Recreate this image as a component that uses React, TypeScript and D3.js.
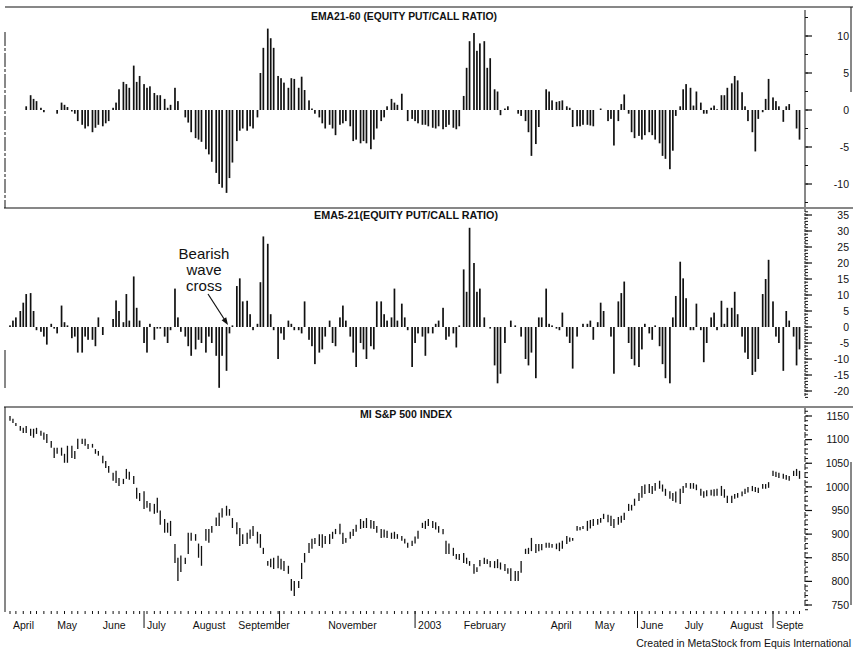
import React, { useEffect, useRef } from 'react';
import * as d3 from 'd3';

// sessions: Mon / Wed / Fri of each week from April 1, 2002
const startDate = new Date(2002, 3, 1);
const weekDays = [0, 2, 4];
const weekCount = 77;

// EMA21-60 of the equity put/call ratio
const ema2160 = [
  0, 0, 0, 0, 0, 0.5, 2, 1.5, 1.2, 0.3, -0.3, 0,
  0, 0, -0.5, 1.0, 0.7, 0.4, -0.2, -0.5, -1.5, -2.0, -2.5, -2.2, -3.0, -2.4, -2.0,
  -2.2, -1.8, -1.5, 0.3, 1.0, 2.8, 3.8, 3.5, 3.0, 6.0, 3.8, 4.6,
  3.5, 3.0, 3.2, 2.3, 2.0, 2.0, 1.5, 0.3, 0.7, 3.0, 1.2, 0, -1.0, -1.7, -3.0,
  -3.8, -4.0, -4.3, -5.3, -6.0, -7.0, -8.5, -10.0, -10.5, -11.2, -9.2, -7.1,
  -4.2, -2.8, -2.5, -2.8, -2.2, -2.5, -1.0, 5.0, 8.4, 11.0, 9.7, 8.4,
  4.6, 4.3, 3.7, 3.0, 4.3, 4.2, 3.0, 4.5, 2.7, 1.3, 0.2, -0.5, -1.0, -1.8, -2.5,
  -2.0, -2.5, -3.4, -2.0, -1.8, -1.5, -2.2, -4.2, -4.0, -4.5, -4.2, -4.5,
  -5.3, -4.0, -2.5, -1.5, -1.0, 0.5, 1.5, 1.0, 0.7, 2.2, 0, -1.5,
  -1.2, -1.5, -1.8, -2.0, -2.0, -2.2, -2.4, -2.5, -2.2, -2.6, -2.3, -2.0, -2.4, -2.6, -2.2,
  1.9, 5.7, 9.3, 10.4, 8.0, 9.0, 9.3, 5.7, 7.0, 2.8, 2.5, -0.7,
  0.2, 0.5, 0, 0, -0.5, -0.8, -1.5, -3.0, -6.2, -4.6, -2.3, 0,
  2.8, 2.5, 1.3, 1.1, 1.2, 1.3, 0.5, 0.3, -2.3, -2.2, -2.2, -2.0,
  -2.0, -2.1, -2.2, 0, 0.2, 0, -1.5, -1.2, -4.8, -1.5, 0.8, 2.1, -0.5, -3.0, -3.8,
  -3.5, -4.0, -3.4, -3.0, -3.4, -4.0, -4.5, -6.2, -6.6, -8.0, -5.5, -0.8,
  0.5, 2.8, 3.5, 3.0, 0.6, 2.5, 1.0, -0.5, -0.5, 0.3, 0.6, 0.1,
  2.0, 2.0, 3.0, 3.6, 4.6, 4.0, 2.4, 0.5, -1.5, -3.0, -5.6, -1.2,
  -0.3, 1.5, 4.2, 1.7, 1.2, 0.5, -1.6, 0.5, 0.8, 0, -2.5, -4.0,
];

// EMA5-21 of the equity put/call ratio
const ema521 = [
  0.5, 2, 3, 5, 7.6, 10.3, 10.6, 5, -1, -1.5, -3, -5.5,
  1, -0.5, -2, 6.7, 1.5, 0.5, -3.5, -3, -8, -8, -3, -4, -4, -6, 3,
  -2.5, 0, 0, 2.5, 8.3, 5, 1.5, 10.3, 2, 15.8, 6, 2,
  -5, -8, 1, -4, -0.5, -0.5, -3, -5, -1, 12, 3, -1.5, -3, -6, -9,
  -7, -4, -5, -8, -3, -5, -9, -19, -9, -13.7, -2, 0.5,
  12.8, 15.2, 8, 8.2, 4, -1, 1, 14, 28.3, 26, 4, -1,
  -10, -2, -4, 2, 1, -1, -1, -2, 8, -4, -6, -11.6, -8, -7, -3,
  2, -5, -6, 3, 6.7, 2, -3, -8, -12.5, -5, -7, -10,
  -6, -7, 8, 8, 4, 2, 3, 12, 2, 7.3, 3, -1,
  -12.5, -5, -2, -3, -9, -2, -2, 1, 2, 6, -4, -3, -2, -6.4, 0.5,
  18, 11, 31, 20, 11, 12, 3, 0, -0.5, -12, -17.6, -14.6,
  -5, 0, 2, 0.5, 0, -3, -10, -12, -8, -16, 3, 3,
  12, 1, 0.5, -0.5, -1, 4.5, -3, -5, -13, -3, 0, 1,
  1, 2, -4, 1.5, 7.6, 5, 0, -3, -14.6, 8, 10.6, 14.2, -5, -10, -12,
  -12.5, -7, 1, -2, -4, 0.5, -6, -11.6, -16, -17.6, 3, 9.7,
  20.4, 15.2, 9, -1, -1, 7.3, -1, -11, -5, 3, 4.5, -1,
  8.2, 1, 6, 6, 11, 4, -3, -8, -10, -15, -14, -10,
  10.3, 15, 21, 8, -3, -5, -13.7, 5, 2, -3, -12, -7,
];

// S&P 500 index, session high
const spxHigh = [
  1150, 1144, 1135, 1129, 1125, 1129, 1123, 1123, 1125, 1119, 1115, 1112,
  1097, 1083, 1083, 1083, 1070, 1087, 1087, 1076, 1102, 1102, 1102, 1091, 1091, 1080, 1076,
  1066, 1055, 1044, 1030, 1034, 1019, 1017, 1038, 1032, 1023, 998, 987,
  991, 970, 966, 964, 977, 950, 932, 924, 928, 879, 850, 855, 850, 903, 903,
  900, 880, 875, 911, 911, 917, 935, 945, 955, 960, 953, 934,
  925, 913, 900, 903, 910, 917, 905, 900, 871, 843, 848, 850,
  854, 848, 843, 833, 805, 801, 801, 839, 860, 881, 890, 892, 900, 900, 896,
  900, 905, 911, 922, 903, 892, 905, 911, 920, 932, 928, 934,
  930, 928, 917, 911, 910, 907, 903, 905, 900, 896, 890, 882,
  886, 895, 907, 924, 928, 932, 928, 925, 917, 911, 886, 880, 871, 858, 858,
  860, 850, 843, 837, 830, 845, 850, 847, 843, 843, 847, 840,
  837, 828, 828, 822, 822, 843, 869, 871, 892, 879, 879, 879,
  882, 882, 879, 880, 882, 886, 896, 893, 892, 917, 915, 917,
  928, 930, 932, 932, 934, 943, 941, 939, 932, 936, 939, 945, 964, 962, 975,
  987, 1002, 1005, 1006, 1002, 1008, 1013, 1005, 996, 991, 987, 990,
  996, 1002, 1008, 1008, 1008, 1005, 996, 991, 993, 994, 995, 996,
  1002, 995, 981, 981, 985, 987, 990, 996, 1000, 1002, 1000, 998,
  1006, 1006, 1010, 1034, 1032, 1030, 1028, 1025, 1023, 1034, 1038, 1034,
];

// S&P 500 index, session low
const spxLow = [
  1140, 1135, 1129, 1119, 1114, 1114, 1108, 1104, 1112, 1108, 1100, 1093,
  1083, 1061, 1070, 1066, 1051, 1051, 1061, 1059, 1080, 1091, 1087, 1080, 1083, 1070, 1066,
  1050, 1040, 1030, 1013, 1008, 1002, 1006, 1017, 1015, 1006, 975, 970,
  953, 956, 948, 943, 945, 920, 903, 903, 896, 839, 801, 820, 837, 858, 886,
  886, 850, 833, 886, 882, 903, 917, 917, 935, 939, 939, 913,
  900, 875, 879, 879, 890, 896, 880, 871, 858, 833, 830, 826,
  828, 825, 822, 816, 780, 769, 786, 805, 840, 860, 869, 879, 875, 871, 879,
  879, 890, 900, 900, 879, 882, 890, 896, 905, 911, 913, 913,
  912, 911, 903, 892, 893, 892, 890, 890, 890, 886, 880, 871,
  875, 880, 890, 913, 911, 917, 913, 910, 903, 900, 858, 858, 854, 847, 845,
  839, 837, 833, 816, 820, 832, 837, 837, 830, 828, 828, 825,
  822, 816, 801, 801, 801, 818, 858, 858, 864, 860, 864, 866,
  871, 871, 871, 868, 864, 869, 879, 884, 886, 907, 908, 911,
  907, 912, 917, 920, 924, 932, 925, 917, 913, 920, 924, 930, 949, 950, 960,
  970, 977, 985, 987, 985, 992, 996, 990, 981, 975, 970, 967,
  964, 987, 998, 996, 996, 993, 981, 977, 980, 982, 980, 981,
  981, 977, 966, 966, 975, 977, 980, 985, 988, 991, 989, 987,
  996, 996, 998, 1023, 1021, 1019, 1017, 1015, 1013, 1023, 1023, 1017,
];

const monthStarts = [
  new Date(2002, 3, 1), new Date(2002, 4, 1), new Date(2002, 5, 1), new Date(2002, 6, 1),
  new Date(2002, 7, 1), new Date(2002, 8, 1), new Date(2002, 10, 1), new Date(2003, 0, 1),
  new Date(2003, 1, 1), new Date(2003, 3, 1), new Date(2003, 4, 1), new Date(2003, 5, 1),
  new Date(2003, 6, 1), new Date(2003, 7, 1), new Date(2003, 8, 1),
];
const monthNames = [
  'April', 'May', 'June', 'July', 'August', 'September', 'November', '2003',
  'February', 'April', 'May', 'June', 'July', 'August', 'September',
];
const separatorMonths = [
  new Date(2002, 6, 1), new Date(2002, 9, 1), new Date(2003, 0, 1),
  new Date(2003, 5, 1), new Date(2003, 8, 1),
];

const topTicks = [-10, -5, 0, 5, 10];
const midTicks = [-20, -15, -10, -5, 0, 5, 10, 15, 20, 25, 30, 35];
const spxTicks = [750, 800, 850, 900, 950, 1000, 1050, 1100, 1150];

const noteLines = ['Bearish', 'wave', 'cross'];

const FONT = "'Liberation Sans', Arial, Helvetica, sans-serif";

const App: React.FC = () => {
  const svgRef = useRef<SVGSVGElement>(null);

  useEffect(() => {
    if (!svgRef.current) return;
    const width = 853;
    const height = 652;
    const axisX = 805;

    const svg = d3.select(svgRef.current)
      .attr('width', width)
      .attr('height', height);
    svg.selectAll('*').remove();

    svg.append('rect').attr('width', width).attr('height', height).attr('fill', '#fff');

    const dates = d3.range(weekCount).flatMap(w =>
      weekDays.map(o => d3.timeDay.offset(startDate, w * 7 + o)));

    const x = d3.scaleTime()
      .domain([new Date(2002, 3, 1), new Date(2003, 8, 1)])
      .range([10, 773]);

    const yTop = d3.scaleLinear().domain([-10, 10]).range([184, 36]);
    const yMid = d3.scaleLinear().domain([-20, 35]).range([391, 215]);
    const yPx = d3.scaleLinear().domain([750, 1150]).range([605, 416]);

    const ink = '#111';

    // frame lines
    const frame = svg.append('g').attr('stroke', ink).attr('fill', 'none');
    frame.append('line').attr('x1', 5).attr('x2', width).attr('y1', 7).attr('y2', 7).attr('stroke-width', 1.2);
    frame.append('line').attr('x1', 4).attr('x2', width).attr('y1', 208).attr('y2', 208).attr('stroke-width', 1.2);
    frame.append('line').attr('x1', 4).attr('x2', width).attr('y1', 407).attr('y2', 407).attr('stroke-width', 1.2);
    frame.append('line').attr('x1', 5).attr('x2', 5).attr('y1', 32).attr('y2', 208)
      .attr('stroke-dasharray', '14 2 3 2');
    frame.append('line').attr('x1', 5).attr('x2', 5).attr('y1', 350).attr('y2', 388);
    frame.append('line').attr('x1', 5).attr('x2', 5).attr('y1', 407).attr('y2', 612);
    frame.append('line').attr('x1', 851).attr('x2', 851).attr('y1', 7).attr('y2', 92);
    frame.append('line').attr('x1', 851).attr('x2', 851).attr('y1', 462).attr('y2', 605);
    frame.append('line').attr('x1', axisX).attr('x2', axisX).attr('y1', 10).attr('y2', 207);
    frame.append('line').attr('x1', axisX).attr('x2', axisX).attr('y1', 209).attr('y2', 396)
      .attr('stroke-dasharray', '3 1');
    frame.append('line').attr('x1', axisX).attr('x2', axisX).attr('y1', 408).attr('y2', 608)
      .attr('stroke-dasharray', '6 2');

    // titles
    const title = (txt: string, cx: number, y: number, len: number) =>
      svg.append('text').attr('x', cx).attr('y', y).attr('text-anchor', 'middle')
        .attr('font-family', FONT).attr('font-weight', 'bold').attr('font-size', 10.5)
        .attr('textLength', len).attr('lengthAdjust', 'spacingAndGlyphs')
        .attr('fill', ink).text(txt);
    title('EMA21-60 (EQUITY PUT/CALL RATIO)', 404, 20, 186);
    title('EMA5-21(EQUITY PUT/CALL RATIO)', 406, 219, 184);
    title('MI S&P 500 INDEX', 406, 418, 92);

    // histograms
    const bars = (vals: number[], y: d3.ScaleLinear<number, number>) => {
      svg.append('g').attr('fill', ink)
        .selectAll('rect').data(vals).join('rect')
        .attr('x', (_, i) => x(dates[i]) - 0.85)
        .attr('width', 1.7)
        .attr('y', d => Math.min(y(d), y(0)))
        .attr('height', d => Math.abs(y(d) - y(0)));
    };
    bars(ema2160, yTop);
    bars(ema521, yMid);

    // price bars
    svg.append('g').attr('stroke', ink).attr('stroke-width', 1.3)
      .selectAll('line').data(spxHigh).join('line')
      .attr('x1', (_, i) => x(dates[i]))
      .attr('x2', (_, i) => x(dates[i]))
      .attr('y1', d => yPx(d))
      .attr('y2', (_, i) => yPx(spxLow[i]));

    // right axes
    const rightAxis = (y: d3.ScaleLinear<number, number>, ticks: number[], minor: number[]) => {
      const g = svg.append('g').attr('stroke', ink);
      g.selectAll('line.minor').data(minor).join('line').attr('class', 'minor')
        .attr('x1', axisX).attr('x2', axisX + 3)
        .attr('y1', d => y(d)).attr('y2', d => y(d));
      g.selectAll('line.major').data(ticks).join('line').attr('class', 'major')
        .attr('x1', axisX + 1).attr('x2', axisX + 7)
        .attr('y1', d => y(d)).attr('y2', d => y(d)).attr('stroke-width', 1.2);
      svg.append('g').selectAll('text').data(ticks).join('text')
        .attr('x', 849).attr('y', d => y(d)).attr('dy', '0.35em')
        .attr('text-anchor', 'end').attr('font-family', FONT).attr('font-size', 10.5)
        .attr('fill', ink).text(d => String(d));
    };
    rightAxis(yTop, topTicks, d3.range(-12.5, 13, 2.5));
    rightAxis(yMid, midTicks, d3.range(-22, 37, 1));
    rightAxis(yPx, spxTicks, d3.range(740, 1170, 10));

    // x axis
    svg.append('g').attr('stroke', ink)
      .selectAll('line').data(dates.filter((_, i) => i % 2 === 0)).join('line')
      .attr('x1', d => x(d)).attr('x2', d => x(d))
      .attr('y1', 611).attr('y2', 614);
    svg.append('g').attr('stroke', ink)
      .selectAll('line').data(separatorMonths).join('line')
      .attr('x1', d => x(d)).attr('x2', d => x(d))
      .attr('y1', 611).attr('y2', 628);

    const clip = svg.append('clipPath').attr('id', 'xclip');
    clip.append('rect').attr('x', 0).attr('y', 600).attr('width', 804).attr('height', 40);
    svg.append('g').attr('clip-path', 'url(#xclip)')
      .selectAll('text').data(monthStarts).join('text')
      .attr('x', d => x(d) + 3).attr('y', 629)
      .attr('font-family', FONT).attr('font-size', 10.5).attr('fill', ink)
      .text((_, i) => monthNames[i]);

    svg.append('text').attr('x', 851).attr('y', 647).attr('text-anchor', 'end')
      .attr('font-family', FONT).attr('font-size', 10.5).attr('fill', ink)
      .text('Created in MetaStock from Equis International');

    // annotation
    noteLines.forEach((t, i) => {
      svg.append('text').attr('x', 204).attr('y', 259 + i * 16)
        .attr('font-family', FONT).attr('font-size', 15).attr('fill', ink)
        .attr('text-anchor', 'middle').text(t);
    });
    const tip: [number, number] = [x(new Date(2002, 7, 27)), yMid(0) - 2];
    const from: [number, number] = [208, 294];
    const ang = Math.atan2(tip[1] - from[1], tip[0] - from[0]);
    svg.append('line').attr('x1', from[0]).attr('y1', from[1])
      .attr('x2', tip[0] - 5 * Math.cos(ang)).attr('y2', tip[1] - 5 * Math.sin(ang))
      .attr('stroke', ink).attr('stroke-width', 1.2);
    const head = [
      tip,
      [tip[0] - 8 * Math.cos(ang - 0.35), tip[1] - 8 * Math.sin(ang - 0.35)],
      [tip[0] - 8 * Math.cos(ang + 0.35), tip[1] - 8 * Math.sin(ang + 0.35)],
    ];
    svg.append('path').attr('d', 'M' + head.map(p => p.join(',')).join('L') + 'Z').attr('fill', ink);
  }, []);

  return (
    <svg ref={svgRef} style={{ position: 'absolute', left: 0, top: 0 }}></svg>
  );
};

export default App;
